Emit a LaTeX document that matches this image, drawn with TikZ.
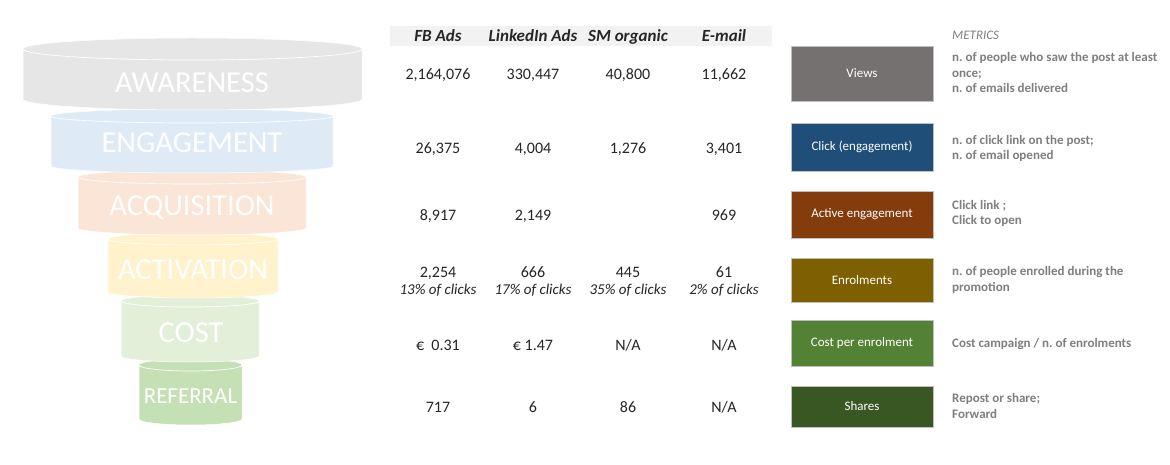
\documentclass[tikz,border=0pt]{standalone}
\usepackage{fontspec}
\setmainfont{Carlito}
\frenchspacing
\definecolor{cAw}{HTML}{E7E6E6}
\definecolor{cEn}{HTML}{DEEBF7}
\definecolor{cAc}{HTML}{FBE5D6}
\definecolor{cAt}{HTML}{FFF2CC}
\definecolor{cCo}{HTML}{E2F0D9}
\definecolor{cRe}{HTML}{C5E0B4}
\definecolor{bV}{HTML}{767171}
\definecolor{bC}{HTML}{1F4E79}
\definecolor{bA}{HTML}{843C0C}
\definecolor{bE}{HTML}{7F6000}
\definecolor{bCo}{HTML}{548235}
\definecolor{bS}{HTML}{385723}
\definecolor{mgray}{HTML}{7F7F7F}
\definecolor{band}{HTML}{F2F2F2}
\definecolor{numc}{HTML}{262626}
\newcommand\funcyl[6]{%
  \filldraw[fill=#6, draw=white, line width=0.5pt] (#1-#2,-#3) -- (#1-#2,-#4)
    arc[start angle=180,end angle=360,x radius=#2,y radius=#5] -- (#1+#2,-#3)
    arc[start angle=0,end angle=180,x radius=#2,y radius=#5] -- cycle;
  \draw[white, line width=0.7pt] (#1-#2,-#3) arc[start angle=180,end angle=360,x radius=#2,y radius=#5];
}
\tikzset{
  funtxt/.style={anchor=base, inner sep=0pt, text=white, font=\fontsize{30.5}{34}\selectfont},
  hdr/.style={anchor=base, inner sep=0pt, text=numc, font=\fontsize{17}{19}\selectfont\bfseries\itshape},
  num/.style={anchor=base, inner sep=0pt, text=numc, font=\fontsize{16}{19}\selectfont},
  sub/.style={anchor=base, inner sep=0pt, text=numc, font=\fontsize{15}{18}\selectfont\itshape},
  mbox/.style={draw=white!75!black, line width=0.6pt, text=white, font=\fontsize{13}{16}\selectfont, inner sep=0pt, minimum width=142pt},
  blbl/.style={text=white, font=\fontsize{13}{16}\selectfont},
  mtxt/.style={anchor=base west, inner sep=0pt, text=mgray, font=\fontsize{13}{15.7}\selectfont\bfseries, align=left},
}
\begin{document}
\begin{tikzpicture}[x=1pt,y=1pt]
\useasboundingbox (0,0) rectangle (1170,-465);
\fill[white] (0,0) rectangle (1170,-465);
% funnel (bottom to top)
\funcyl{190.5}{51.5}{365}{419}{6}{cRe}
\funcyl{190}{69}{301}{356}{6}{cCo}
\funcyl{193}{85}{239}{292}{6}{cAt}
\funcyl{192}{114}{177}{228}{7}{cAc}
\funcyl{192}{141}{116}{166}{7}{cEn}
\funcyl{192.5}{169.5}{49}{99}{11}{cAw}
\node[funtxt] (tAw) at (192,-93) {AWARENESS};
\node[funtxt] (tEn) at (192,-153) {ENGAGEMENT};
\node[funtxt] (tAc) at (192,-215) {ACQUISITION};
\node[funtxt] (tAt) at (193,-279) {ACTIVATION};
\node[funtxt] (tCo) at (191,-342) {COST};
\node[funtxt, font=\fontsize{23}{26}\selectfont] (tRe) at (190.5,-403) {REFERRAL};
% table header
\fill[band] (390,-26) rectangle (772,-46);
\node[hdr] (h1) at (438,-42) {FB Ads};
\node[hdr] (h2) at (533,-42) {LinkedIn Ads};
\node[hdr] (h3) at (628,-42) {SM organic};
\node[hdr] (h4) at (724,-42) {E-mail};
% rows
\node[num] (r11) at (438,-80) {2,164,076};
\node[num] (r12) at (533,-80) {330,447};
\node[num] (r13) at (628,-80) {40,800};
\node[num] (r14) at (724,-80) {11,662};
\node[num] (r21) at (438,-154) {26,375};
\node[num] (r22) at (533,-154) {4,004};
\node[num] (r23) at (628,-154) {1,276};
\node[num] (r24) at (724,-154) {3,401};
\node[num] (r31) at (438,-221) {8,917};
\node[num] (r32) at (533,-221) {2,149};
\node[num] (r34) at (724,-221) {969};
\node[num] (r41) at (438,-277) {2,254};
\node[num] (r42) at (533,-277) {666};
\node[num] (r43) at (628,-277) {445};
\node[num] (r44) at (724,-277) {61};
\node[sub] (s41) at (438,-294) {13\% of clicks};
\node[sub] (s42) at (533,-294) {17\% of clicks};
\node[sub] (s43) at (628,-294) {35\% of clicks};
\node[sub] (s44) at (724,-294) {2\% of clicks};
\node[num] (r51) at (438,-350) {€\ \ 0.31};
\node[num] (r52) at (533,-350) {€ 1.47};
\node[num] (r53) at (628,-350) {N/A};
\node[num] (r54) at (724,-350) {N/A};
\node[num] (r61) at (438,-412) {717};
\node[num] (r62) at (533,-412) {6};
\node[num] (r63) at (628,-412) {86};
\node[num] (r64) at (724,-412) {N/A};
% metric boxes
\node[mbox, fill=bV, minimum height=55pt] (bV) at (862,-73.5) {};
\node[mbox, fill=bC, minimum height=48pt] (bC) at (862,-147) {};
\node[mbox, fill=bA, minimum height=47pt] (bA) at (862,-214.5) {};
\node[mbox, fill=bE, minimum height=44pt] (bE) at (862,-280) {};
\node[mbox, fill=bCo, minimum height=46pt] (bCo) at (862,-343) {};
\node[mbox, fill=bS, minimum height=41pt] (bS) at (862,-406.5) {};
\node[blbl] (lV) at (bV) {Views};
\node[blbl] (lC) at (bC) {Click (engagement)};
\node[blbl] (lA) at (bA) {Active engagement};
\node[blbl] (lE) at (bE) {Enrolments};
\node[blbl] (lCo) at (bCo) {Cost per enrolment};
\node[blbl] (lS) at (bS) {Shares};
% metrics descriptions (base = baseline of last line)
\node[mtxt, font=\fontsize{13}{15.7}\selectfont\itshape] (mh) at (952,-40) {METRICS};
\node[mtxt] (m1) at (952,-93) {n. of people who saw the post at least\\once;\\n. of emails delivered};
\node[mtxt] (m2) at (952,-160) {n. of click link on the post;\\n. of email opened};
\node[mtxt] (m3) at (952,-225) {Click link ;\\Click to open};
\node[mtxt] (m4) at (952,-291) {n. of people enrolled during the\\promotion};
\node[mtxt] (m5) at (952,-347) {Cost campaign / n. of enrolments};
\node[mtxt] (m6) at (952,-418) {Repost or share;\\Forward};
\end{tikzpicture}
\end{document}
